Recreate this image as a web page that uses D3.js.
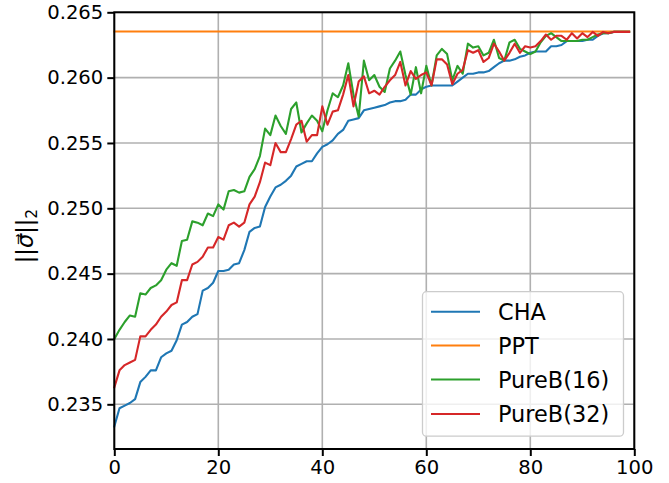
<!DOCTYPE html>
<html><head><meta charset="utf-8">
<script src="https://cdn.jsdelivr.net/npm/d3@7"></script>
<style>body{margin:0;background:#fff}svg{display:block}text{font-family:"DejaVu Sans",sans-serif}</style>
</head><body><div id="chart"></div>
<script>
const seriesNames = ["CHA","PPT","PureB(16)","PureB(32)"];
const colors = ["#1f77b4","#ff7f0e","#2ca02c","#d62728"];
const xTicks = [0,20,40,60,80,100];
const yTicks = [0.235,0.240,0.245,0.250,0.255,0.260,0.265];
const cha = [0.2333,0.2347,0.2349,0.2351,0.2354,0.2367,0.2371,0.2376,0.2376,0.2386,
0.2389,0.2391,0.2399,0.2411,0.2413,0.2417,0.2419,0.2437,0.2439,0.2443,
0.2452,0.2452,0.2453,0.2457,0.2458,0.2468,0.2482,0.2485,0.2486,0.2501,
0.2509,0.2516,0.2518,0.2521,0.2525,0.2532,0.2534,0.2536,0.2536,0.2542,
0.2547,0.2549,0.2552,0.2557,0.2560,0.2567,0.2568,0.2569,0.2575,0.2576,
0.2577,0.2578,0.2579,0.2581,0.2582,0.2582,0.2583,0.2587,0.2587,0.2591,
0.2593,0.2594,0.2594,0.2594,0.2594,0.2594,0.2597,0.2600,0.2603,0.2603,
0.2604,0.2604,0.2605,0.2608,0.2611,0.2613,0.2613,0.2614,0.2616,0.2617,
0.2619,0.2620,0.2620,0.2620,0.2624,0.2624,0.2625,0.2628,0.2628,0.2628,
0.2628,0.2629,0.2629,0.2632,0.2634,0.2634,0.2635,0.2635,0.2635,0.2635];
const ppt = Array.from({length:100},()=>0.26353);
const pureB16 = [0.2400,0.2407,0.2413,0.2418,0.2417,0.2435,0.2434,0.2439,0.2441,0.2445,
0.2453,0.2458,0.2456,0.2475,0.2476,0.2490,0.2489,0.2487,0.2496,0.2494,
0.2503,0.2499,0.2513,0.2514,0.2512,0.2513,0.2524,0.2530,0.2540,0.2561,
0.2556,0.2571,0.2563,0.2557,0.2576,0.2581,0.2558,0.2565,0.2571,0.2567,
0.2559,0.2575,0.2588,0.2585,0.2594,0.2611,0.2587,0.2570,0.2613,0.2598,
0.2602,0.2593,0.2589,0.2607,0.2613,0.2620,0.2602,0.2587,0.2608,0.2588,
0.2609,0.2594,0.2617,0.2622,0.2618,0.2598,0.2609,0.2603,0.2626,0.2623,
0.2624,0.2617,0.2619,0.2629,0.2615,0.2613,0.2627,0.2629,0.2622,0.2620,
0.2618,0.2620,0.2627,0.2632,0.2634,0.2631,0.2628,0.2628,0.2628,0.2628,
0.2629,0.2629,0.2631,0.2633,0.2634,0.2634,0.2635,0.2635,0.2635,0.2635];
const pureB32 = [0.2363,0.2376,0.2380,0.2382,0.2384,0.2402,0.2402,0.2407,0.2411,0.2417,
0.2421,0.2426,0.2428,0.2445,0.2445,0.2457,0.2459,0.2463,0.2470,0.2470,
0.2478,0.2476,0.2487,0.2489,0.2486,0.2489,0.2503,0.2509,0.2520,0.2535,
0.2533,0.2550,0.2543,0.2543,0.2553,0.2564,0.2567,0.2551,0.2556,0.2556,
0.2578,0.2564,0.2574,0.2575,0.2587,0.2602,0.2578,0.2597,0.2601,0.2588,
0.2590,0.2587,0.2593,0.2598,0.2602,0.2612,0.2594,0.2605,0.2599,0.2602,
0.2604,0.2594,0.2614,0.2614,0.2610,0.2595,0.2603,0.2606,0.2621,0.2619,
0.2621,0.2612,0.2615,0.2626,0.2620,0.2613,0.2619,0.2626,0.2619,0.2624,
0.2623,0.2624,0.2628,0.2633,0.2629,0.2632,0.2632,0.2629,0.2634,0.2630,
0.2634,0.2631,0.2635,0.2632,0.2635,0.2634,0.2635,0.2635,0.2635,0.2635];
const allSeries = [cha, ppt, pureB16, pureB32];

const W=669,H=483;
const m={left:114.3,right:634.3,top:12.3,bottom:449};
const svg=d3.select("#chart").append("svg").attr("width",W).attr("height",H);
const x=d3.scaleLinear().domain([0,100]).range([m.left,m.right]);
const y=d3.scaleLinear().domain([0.23158,0.265]).range([m.bottom,m.top]);

// grid
const g=svg.append("g");
g.selectAll(".gx").data(xTicks).join("line").attr("x1",d=>x(d)).attr("x2",d=>x(d))
 .attr("y1",m.top).attr("y2",m.bottom).attr("stroke","#b0b0b0").attr("stroke-width",1.6);
g.selectAll(".gy").data(yTicks).join("line").attr("y1",d=>y(d)).attr("y2",d=>y(d))
 .attr("x1",m.left).attr("x2",m.right).attr("stroke","#b0b0b0").attr("stroke-width",1.6);

// lines
const line=d3.line().x((d,i)=>x(i)).y(d=>y(d));
allSeries.forEach((s,k)=>{
  svg.append("path").datum(s).attr("d",line).attr("fill","none")
    .attr("stroke",colors[k]).attr("stroke-width",2.1).attr("stroke-linejoin","round").attr("stroke-linecap","square");
});

// axes
const xAxis=d3.axisBottom(x).tickValues(xTicks).tickSize(7).tickPadding(4).tickFormat(d3.format("d"));
const yAxis=d3.axisLeft(y).tickValues(yTicks).tickSize(7).tickPadding(4).tickFormat(d3.format(".3f"));
const ax=svg.append("g").attr("transform",`translate(0,${m.bottom})`).call(xAxis);
const ay=svg.append("g").attr("transform",`translate(${m.left},0)`).call(yAxis);
[ax,ay].forEach(a=>{
  a.select(".domain").remove();
  a.selectAll(".tick line").attr("stroke","#000").attr("stroke-width",2);
  a.selectAll(".tick text").attr("font-size","19.6px").attr("fill","#000").attr("font-family","DejaVu Sans");
});
// spines
svg.append("rect").attr("x",m.left).attr("y",m.top).attr("width",m.right-m.left).attr("height",m.bottom-m.top)
 .attr("fill","none").attr("stroke","#000").attr("stroke-width",2);

// y label
const yl=svg.append("text").attr("transform","translate(33,236) rotate(-90)")
 .attr("text-anchor","middle").attr("font-size","22.5px").attr("fill","#000");
yl.append("tspan").text("||");
yl.append("tspan").attr("font-style","italic").text("\u03C3\u20D7");
yl.append("tspan").text("||");
yl.append("tspan").attr("font-size","15.5px").attr("dy",4).text("2");

// legend
const lg=svg.append("g");
lg.append("rect").attr("x",422.5).attr("y",291.7).attr("width",201).attr("height",144.5).attr("rx",4)
 .attr("fill","#fff").attr("fill-opacity",0.8).attr("stroke","#cccccc").attr("stroke-width",1.3);
const rows=[311.7,345.5,379.5,414];
seriesNames.forEach((n,k)=>{
  lg.append("line").attr("x1",431).attr("x2",480).attr("y1",rows[k]).attr("y2",rows[k])
    .attr("stroke",colors[k]).attr("stroke-width",2.1);
  lg.append("text").attr("x",498).attr("y",rows[k]+8).attr("font-size","22.4px").attr("fill","#000").text(n);
});
</script></body></html>
